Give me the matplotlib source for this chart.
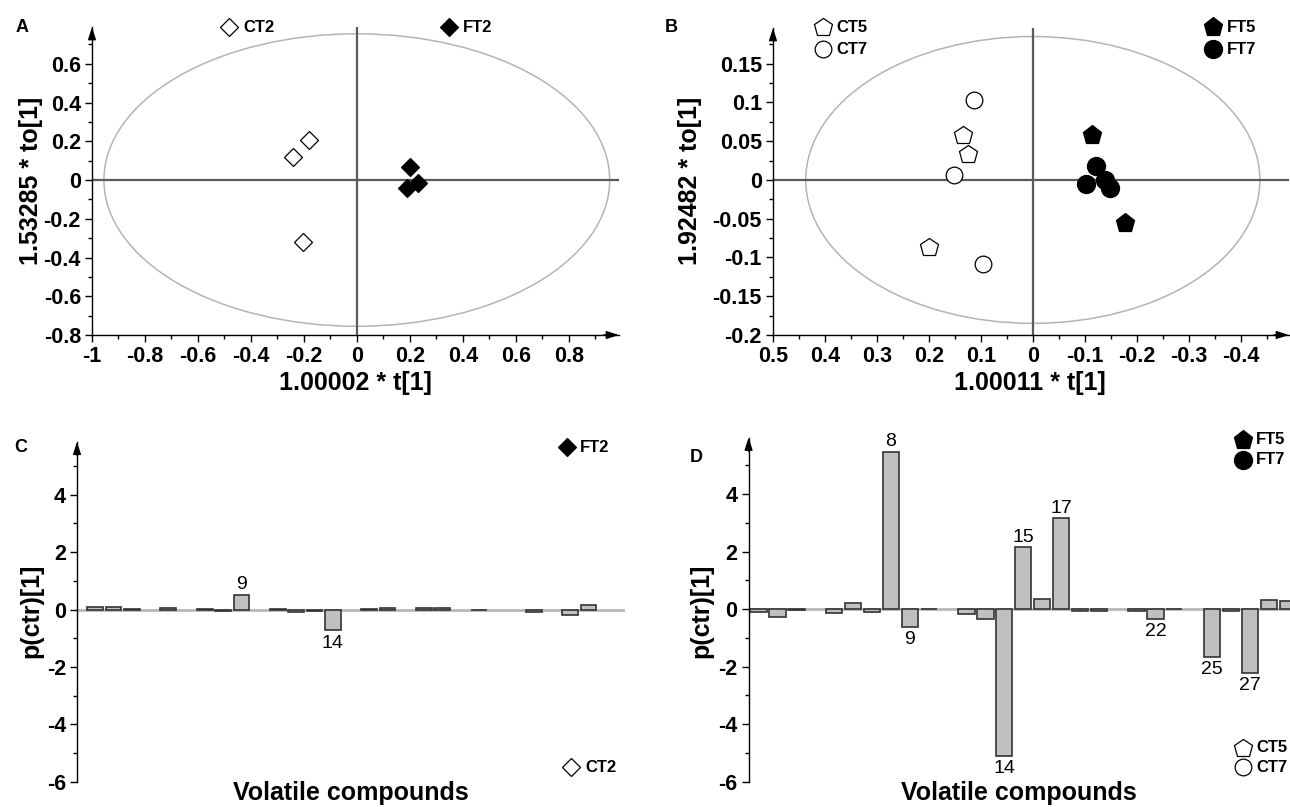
import matplotlib
matplotlib.use('Agg')
import matplotlib.pyplot as plt
from matplotlib.patches import Ellipse
from matplotlib.ticker import MultipleLocator, FuncFormatter

plt.rcParams['font.family'] = ['Liberation Sans', 'DejaVu Sans']
plt.rcParams['axes.unicode_minus'] = False

# ---------------- data ----------------
# Panel A scores (t[1], to[1])
a_ct2_t = [-0.18, -0.24, -0.205]
a_ct2_to = [0.207, 0.117, -0.32]
a_ft2_t = [0.20, 0.23, 0.19]
a_ft2_to = [0.069, -0.014, -0.043]
a_ellipse = (0.955, 0.755)

# Panel B scores
b_ct5_t = [0.135, 0.125, 0.199]
b_ct5_to = [0.058, 0.034, -0.087]
b_ct7_t = [0.113, 0.151, 0.096]
b_ct7_to = [0.1035, 0.007, -0.108]
b_ft5_t = [-0.113, -0.178]
b_ft5_to = [0.058, -0.055]
b_ft7_t = [-0.121, -0.103, -0.138, -0.148]
b_ft7_to = [0.018, -0.0055, 0.0, -0.011]
b_ellipse = (0.437, 0.185)

# Panels C / D: loadings p(ctr)[1] per volatile compound
compounds = list(range(1, 30))
c_loadings = [0.08, 0.08, 0.01, 0.0, 0.07, 0.0, 0.01, -0.05, 0.52, 0.0,
              0.01, -0.10, -0.05, -0.73, 0.0, 0.01, 0.04, 0.0, 0.04, 0.04,
              0.0, -0.03, 0.0, 0.0, -0.10, 0.0, -0.18, 0.15, 0.0]
d_loadings = [-0.10, -0.26, -0.02, 0.0, -0.14, 0.20, -0.10, 5.47, -0.63, 0.01,
              0.0, -0.16, -0.34, -5.09, 2.16, 0.36, 3.17, -0.06, -0.06, 0.0,
              -0.05, -0.35, 0.01, 0.0, -1.65, -0.05, -2.21, 0.33, 0.27]
c_labelled = [9, 14]
d_labelled = [8, 9, 14, 15, 17, 22, 25, 27]

# ---------------- layout ----------------
W, H = 1290, 807
fig = plt.figure(figsize=(W / 100, H / 100), dpi=100)


def px_rect(l, r, t, b):
    return [l / W, 1 - b / H, (r - l) / W, (b - t) / H]


def fmt(v, p):
    v = round(v, 4)
    if v == 0:
        return '0'
    return f"{v:g}"


TICKFS = 15.5
LABELFS = 18
ARROW = dict(arrowstyle='-|>,head_length=0.5,head_width=0.16', mutation_scale=15,
             lw=1, color='k', shrinkA=0, shrinkB=0)


def style_axes(ax, xaxis=True):
    for s in ['top', 'right']:
        ax.spines[s].set_visible(False)
    ax.spines['left'].set_linewidth(1)
    if xaxis:
        ax.spines['bottom'].set_linewidth(1)
    else:
        ax.spines['bottom'].set_visible(False)
        ax.set_xticks([])
    ax.tick_params(which='major', direction='out', length=5, width=1, pad=3,
                   labelsize=TICKFS)
    ax.tick_params(which='minor', direction='out', length=3, width=1)
    for lab in ax.get_xticklabels() + ax.get_yticklabels():
        lab.set_fontweight('bold')
    ax.yaxis.set_major_formatter(FuncFormatter(fmt))
    if xaxis:
        ax.xaxis.set_major_formatter(FuncFormatter(fmt))
    ax.annotate('', xy=(0, 1.0), xytext=(0, 0.96), xycoords='axes fraction',
                arrowprops=ARROW, annotation_clip=False)
    if xaxis:
        ax.annotate('', xy=(1.0, 0), xytext=(0.97, 0), xycoords='axes fraction',
                    arrowprops=ARROW, annotation_clip=False)


OPEN = dict(mfc='white', mec='black', mew=0.9, ls='none')
FILL = dict(mfc='black', mec='black', mew=0.9, ls='none')

# ---------- Panel A ----------
axA = fig.add_axes(px_rect(92, 619, 27, 335))
axA.set_xlim(-1, 0.99)
axA.set_ylim(-0.8, 0.79)
axA.add_patch(Ellipse((0, 0), 2 * a_ellipse[0], 2 * a_ellipse[1], fill=False,
                      ec='#b4b4b4', lw=1.1))
axA.axhline(0, color='#5a5a5a', lw=1.6, zorder=1)
axA.axvline(0, color='#5a5a5a', lw=1.6, zorder=1)
axA.plot(a_ct2_t, a_ct2_to, marker='D', ms=9, **OPEN, zorder=3)
axA.plot(a_ft2_t, a_ft2_to, marker='D', ms=9, **FILL, zorder=3)
axA.xaxis.set_major_locator(MultipleLocator(0.2))
axA.xaxis.set_minor_locator(MultipleLocator(0.1))
axA.yaxis.set_major_locator(MultipleLocator(0.2))
axA.yaxis.set_minor_locator(MultipleLocator(0.1))
style_axes(axA)

# ---------- Panel B ----------
axB = fig.add_axes(px_rect(773, 1289, 28, 335))
axB.set_xlim(0.5, -0.493)
axB.set_ylim(-0.2, 0.196)
axB.add_patch(Ellipse((0, 0), 2 * b_ellipse[0], 2 * b_ellipse[1], fill=False,
                      ec='#b4b4b4', lw=1.1))
axB.axhline(0, color='#5a5a5a', lw=1.6, zorder=1)
axB.axvline(0, color='#5a5a5a', lw=1.6, zorder=1)
axB.plot(b_ct5_t, b_ct5_to, marker='p', ms=13.5, **OPEN, zorder=3)
axB.plot(b_ct7_t, b_ct7_to, marker='o', ms=12, **OPEN, zorder=3)
axB.plot(b_ft5_t, b_ft5_to, marker='p', ms=14, **FILL, zorder=3)
axB.plot(b_ft7_t, b_ft7_to, marker='o', ms=13, **FILL, zorder=3)
axB.xaxis.set_major_locator(MultipleLocator(0.1))
axB.xaxis.set_minor_locator(MultipleLocator(0.05))
axB.yaxis.set_major_locator(MultipleLocator(0.05))
axB.yaxis.set_minor_locator(MultipleLocator(0.025))
style_axes(axB)


# ---------- Panels C / D ----------
def bar_panel(ax, values, labelled):
    ax.axhline(0, color='#b8b8b8', lw=2, zorder=1)
    ecs = ['#333333' if v != 0 else 'none' for v in values]
    ax.bar(compounds, values, width=0.86, color='#c0c0c0', edgecolor=ecs,
           linewidth=1.2, zorder=2)
    for c, v in zip(compounds, values):
        if c in labelled:
            if v >= 0:
                ax.annotate(str(c), (c, v), xytext=(0, 1), textcoords='offset points',
                            ha='center', va='bottom', fontsize=14,
                            family=['Liberation Sans Narrow', 'Liberation Sans'])
            else:
                ax.annotate(str(c), (c, v), xytext=(0, -3), textcoords='offset points',
                            ha='center', va='top', fontsize=14,
                            family=['Liberation Sans Narrow', 'Liberation Sans'])
    ax.yaxis.set_major_locator(MultipleLocator(2))
    ax.yaxis.set_minor_locator(MultipleLocator(1))
    style_axes(ax, xaxis=False)


axC = fig.add_axes(px_rect(77, 625, 441.7, 781.7))
axC.set_xlim(0, 30)
axC.set_ylim(-6, 5.85)
bar_panel(axC, c_loadings, c_labelled)

axD = fig.add_axes(px_rect(748.6, 1290, 437.5, 781.7))
axD.set_xlim(0.47, 29.12)
axD.set_ylim(-6, 5.97)
bar_panel(axD, d_loadings, d_labelled)

# ---------- overlay: labels, legends, panel letters ----------
ov = fig.add_axes([0, 0, 1, 1], zorder=10)
ov.set_xlim(0, W)
ov.set_ylim(H, 0)
ov.axis('off')
ov.patch.set_alpha(0)

bold = dict(fontweight='bold')
ov.text(355, 383, '1.00002 * t[1]', ha='center', va='center', fontsize=LABELFS, **bold)
ov.text(31, 181, '1.53285 * to[1]', ha='center', va='center', rotation=90,
        fontsize=LABELFS, **bold)
ov.text(1030, 383, '1.00011 * t[1]', ha='center', va='center', fontsize=LABELFS, **bold)
ov.text(690, 181, '1.92482 * to[1]', ha='center', va='center', rotation=90,
        fontsize=LABELFS, **bold)
ov.text(31, 611, 'p(ctr)[1]', ha='center', va='center', rotation=90,
        fontsize=LABELFS, **bold)
ov.text(701, 611, 'p(ctr)[1]', ha='center', va='center', rotation=90,
        fontsize=LABELFS, **bold)
ov.text(351, 800, 'Volatile compounds', ha='center', va='baseline', fontsize=LABELFS, **bold)
ov.text(1019, 800, 'Volatile compounds', ha='center', va='baseline', fontsize=LABELFS, **bold)

for letter, x, y in [('A', 22, 27), ('B', 671, 27), ('C', 20.5, 448), ('D', 696, 457.5)]:
    ov.text(x, y, letter, ha='center', va='center', fontsize=13, **bold)

LEGFS = 12
legend_items = [
    ('D', 9, OPEN, 229, 27, 'CT2', 243),
    ('D', 9, FILL, 448.6, 27, 'FT2', 463),
    ('p', 13.5, OPEN, 823, 27, 'CT5', 836),
    ('o', 12, OPEN, 823, 49, 'CT7', 836),
    ('p', 14, FILL, 1213, 27, 'FT5', 1227),
    ('o', 13, FILL, 1213, 49, 'FT7', 1227),
    ('D', 9, FILL, 567, 447, 'FT2', 580),
    ('D', 9, OPEN, 571, 767, 'CT2', 585),
    ('p', 14, FILL, 1242.5, 440, 'FT5', 1256),
    ('o', 13, FILL, 1242.5, 460, 'FT7', 1256),
    ('p', 13.5, OPEN, 1242.5, 748, 'CT5', 1256),
    ('o', 12, OPEN, 1242.5, 767, 'CT7', 1256),
]
for m, ms, st, x, y, txt, tx in legend_items:
    ov.plot([x], [y], marker=m, ms=ms, **st)
    ov.text(tx, y, txt, ha='left', va='center', fontsize=LEGFS, **bold)

fig.savefig('out.png', dpi=100)
